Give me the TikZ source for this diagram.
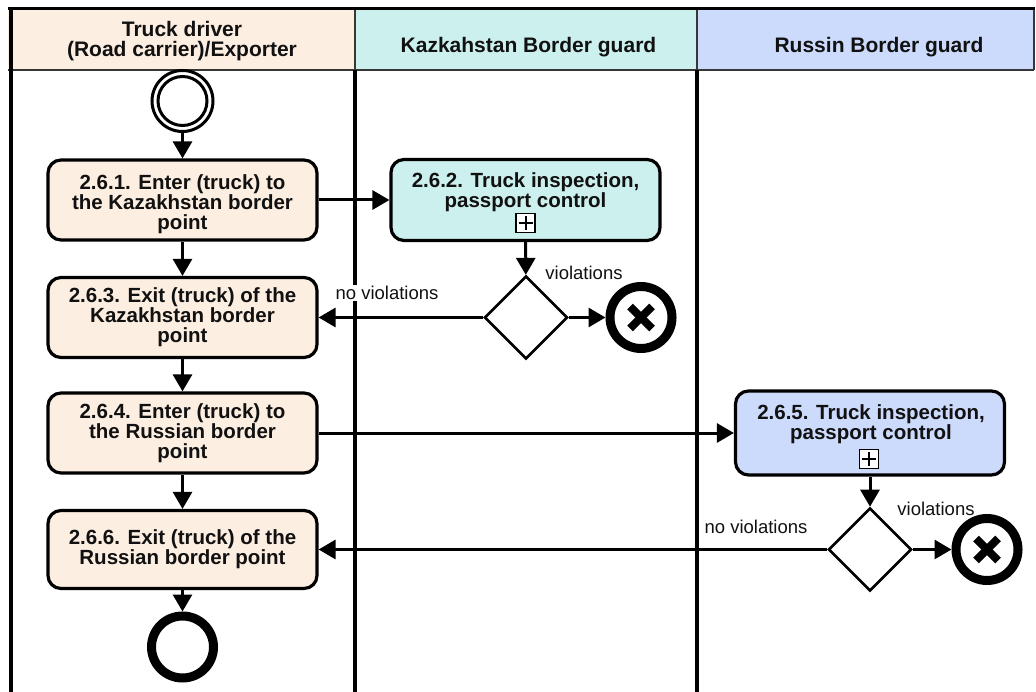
\documentclass[tikz,border=0pt]{standalone}
\usepackage{fontspec}
\setmainfont{Liberation Sans}
\usetikzlibrary{arrows.meta,shapes.geometric}
\definecolor{peach}{RGB}{253,238,226}
\definecolor{cyanl}{RGB}{204,240,238}
\definecolor{bluel}{RGB}{204,218,252}
\definecolor{hdrline}{RGB}{55,55,55}
\definecolor{ink}{RGB}{17,17,17}
\begin{document}
\begin{tikzpicture}[x=1pt,y=-1pt,
 task/.style={draw=black, line width=3.2pt, rounded corners=13pt, minimum width=269pt, minimum height=80pt, align=center, font=\bfseries\fontsize{20.5}{20}\selectfont, text=ink, inner sep=0pt},
 tasktext/.style={align=center, font=\bfseries\fontsize{20.5}{20}\selectfont, text=ink, inner sep=0pt},
 flow/.style={line width=3pt, -{Triangle[length=17pt,width=19pt]}},
 gw/.style={draw, diamond, line width=2.6pt, minimum width=83pt, minimum height=83pt, inner sep=0pt, fill=white},
 endev/.style={draw, circle, line width=9pt, minimum size=62pt, inner sep=0pt, fill=white},
 errev/.style={endev, path picture={
   \draw[line width=8pt] ([shift={(-11pt,-11pt)}]path picture bounding box.center) -- ([shift={(11pt,11pt)}]path picture bounding box.center);
   \draw[line width=8pt] ([shift={(-11pt,11pt)}]path picture bounding box.center) -- ([shift={(11pt,-11pt)}]path picture bounding box.center);}},
 lbl/.style={font=\fontsize{18.5}{20}\selectfont, text=ink, inner sep=1pt},
 hdr/.style={font=\bfseries\fontsize{21}{19.5}\selectfont, text=ink, align=center, inner sep=0pt},
 lane/.style={line width=4pt},
 plusbox/.style={draw, line width=1.3pt, minimum size=19pt, inner sep=0pt, fill=white, path picture={
   \draw[line width=2pt] ([xshift=-7pt]path picture bounding box.center) -- ([xshift=7pt]path picture bounding box.center);
   \draw[line width=2pt] ([yshift=-7pt]path picture bounding box.center) -- ([yshift=7pt]path picture bounding box.center);}}
]
\useasboundingbox (0,0) rectangle (1036,692);
% header
\fill[peach] (8,8) rectangle (355,70);
\fill[cyanl] (355,8) rectangle (697,70);
\fill[bluel] (697,8) rectangle (1034,70);
\draw[hdrline, line width=1.5pt] (8,70) -- (1034,70) (355,8) -- (355,70) (697,8) -- (697,70) (1034,8) -- (1034,70);
\draw[line width=3pt] (8,9) -- (1034.75,9);
\node[hdr] (h1) at (182,41) {Truck driver\\(Road carrier)/Exporter};
\node[hdr] (h2) at (528.5,47) {Kazkahstan Border guard};
\node[hdr] (h3) at (879,47) {Russin Border guard};
% lanes
\draw[lane] (10.5,8) -- (10.5,692);
\draw[lane] (355,70) -- (355,692);
\draw[lane] (697,70) -- (697,692);
% events
\node[circle, draw, line width=3pt, minimum size=61pt, inner sep=0pt, fill=white] (start) at (182.5,101) {};
\node[circle, draw, line width=3pt, minimum size=49pt, inner sep=0pt] (startin) at (182.5,101) {};
\node[endev] (end) at (182.5,647) {};
% tasks lane 1
\node[task, fill=peach] (t261) at (182.5,200) {};
\node[tasktext] (t261txt) at (182.5,204) {2.6.1. Enter (truck) to\\the Kazakhstan border\\point};
\node[task, fill=peach] (t263) at (182.5,317.5) {2.6.3. Exit (truck) of the\\Kazakhstan border\\point};
\node[task, fill=peach] (t264) at (182.5,433) {2.6.4. Enter (truck) to\\the Russian border\\point};
\node[task, fill=peach, minimum height=78pt] (t266) at (182.5,549.5) {2.6.6. Exit (truck) of the\\Russian border point};
% lane 2
\node[task, fill=cyanl, minimum height=81pt] (t262) at (525.5,200) {};
\node[tasktext] (t262txt) at (525.5,192) {2.6.2. Truck inspection,\\passport control};
\node[plusbox] (p262) at (525.5,223) {};
\node[gw] (g1) at (526,317.5) {};
\node[errev] (e1) at (641,317.5) {};
% lane 3
\node[task, fill=bluel, minimum height=84pt] (t265) at (870,433) {};
\node[tasktext] (t265txt) at (871,424) {2.6.5. Truck inspection,\\passport control};
\node[plusbox] (p265) at (869,459) {};
\node[gw] (g2) at (870,549.5) {};
\node[errev] (e2) at (987,549.5) {};
% flows
\draw[flow] (start) -- (t261);
\draw[flow] (t261) -- (t263);
\draw[flow] (t263) -- (t264);
\draw[flow] (t264) -- (t266);
\draw[flow] (t266) -- (end);
\draw[flow] (t261) -- (t262);
\draw[flow] (t262) -- (g1);
\draw[flow] (g1) -- (e1);
\draw[flow] (g1) -- (t263);
\draw[flow] (t264) -- (t265);
\draw[flow] (t265) -- (g2);
\draw[flow] (g2) -- (e2);
\draw[flow] (g2) -- (t266);
% labels
\node[lbl, fill=white] (nv1) at (387,293) {no violations};
\node[lbl] (v1) at (584,273) {violations};
\node[lbl] (nv2) at (756,527) {no violations};
\node[lbl] (v2) at (936,509) {violations};
\end{tikzpicture}
\end{document}
